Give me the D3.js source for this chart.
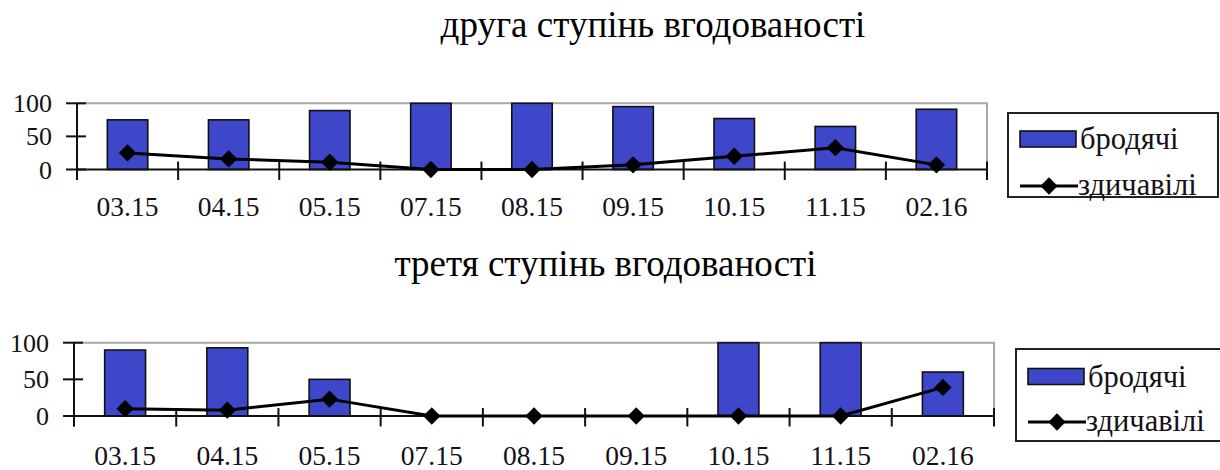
<!DOCTYPE html>
<html>
<head>
<meta charset="utf-8">
<script src="https://cdn.jsdelivr.net/npm/d3@7"></script>
<style>
  html, body { margin: 0; padding: 0; background: #fff; }
  svg { display: block; }
</style>
</head>
<body>
<svg id="chart" width="1220" height="470"></svg>
<script>
// Months of observation
const categories = ["03.15", "04.15", "05.15", "07.15", "08.15", "09.15", "10.15", "11.15", "02.16"];
const yTicks = [0, 50, 100];

// Second degree of fatness, %
const secondStray = [75, 75, 89, 100, 100, 95, 77, 65, 91];
const secondFeral = [25, 16, 11, 0, 0, 7, 20, 33, 7];

// Third degree of fatness, %
const thirdStray = [90, 93, 50, 0, 0, 0, 100, 100, 60];
const thirdFeral = [10, 8, 23, 0, 0, 0, 0, 0, 39];

const seriesNames = ["бродячі", "здичавілі"];
const titles = ["друга ступінь вгодованості", "третя ступінь вгодованості"];

const FONT = "'Liberation Serif', Tinos, 'Times New Roman', 'DejaVu Serif', serif";
const INK = "#161018";
const BAR = "#3e47c9";

const svg = d3.select("#chart")
  .attr("font-family", FONT);

const panels = [
  { title: titles[0], titleX: 653, titleY: 37, bars: secondStray, line: secondFeral,
    x0: 77, x1: 987, yTop: 103.3, yZero: 169.5, labelY: 216,
    legend: { x: 1008, y: 113, w: 210, h: 84, swY: 131, lnY: 186, sx: 1020 } },
  { title: titles[1], titleX: 605.5, titleY: 276, bars: thirdStray, line: thirdFeral,
    x0: 74, x1: 994, yTop: 342.7, yZero: 416, labelY: 465,
    legend: { x: 1016, y: 349, w: 212, h: 92, swY: 368.5, lnY: 422, sx: 1028 } }
];

panels.forEach(p => {
  const g = svg.append("g");

  g.append("text")
    .attr("x", p.titleX).attr("y", p.titleY)
    .attr("text-anchor", "middle")
    .attr("font-family", FONT)
    .attr("fill", "#000")
    .style("font-size", "37px")
    .text(p.title);

  const x = d3.scaleBand().domain(categories).range([p.x0, p.x1])
    .paddingInner(0.6).paddingOuter(0.3);
  const step = x.step();
  const y = d3.scaleLinear().domain([0, 100]).range([p.yZero, p.yTop]);

  // plot frame (top and right, grey)
  g.append("path")
    .attr("d", `M${p.x0},${y(100)}H${p.x1}V${y(0)}`)
    .attr("fill", "none").attr("stroke", "#a8a8a8").attr("stroke-width", 2);

  // bars
  const data = categories.map((c, i) => ({ c, b: p.bars[i], l: p.line[i] }));
  g.selectAll("rect.bar").data(data.filter(d => d.b > 0)).join("rect")
    .attr("class", "bar")
    .attr("x", d => x(d.c))
    .attr("width", x.bandwidth())
    .attr("y", d => y(d.b))
    .attr("height", d => y(0) - y(d.b))
    .attr("fill", BAR).attr("stroke", "#111").attr("stroke-width", 1.6);

  // x axis with boundary ticks crossing the zero line
  g.append("line")
    .attr("x1", p.x0).attr("x2", p.x1).attr("y1", y(0)).attr("y2", y(0))
    .attr("stroke", "#111").attr("stroke-width", 2);
  const bounds = d3.range(categories.length + 1).map(i => p.x0 + i * step);
  g.selectAll("line.xt").data(bounds).join("line")
    .attr("class", "xt")
    .attr("x1", d => d).attr("x2", d => d)
    .attr("y1", y(0) - 8).attr("y2", y(0) + 10.5)
    .attr("stroke", "#111").attr("stroke-width", 2);
  g.selectAll("text.xl").data(categories).join("text")
    .attr("class", "xl")
    .attr("x", d => x(d) + x.bandwidth() / 2)
    .attr("y", p.labelY)
    .attr("text-anchor", "middle")
    .attr("font-family", FONT).attr("fill", INK)
    .style("font-size", "27.5px")
    .text(d => d);

  // y axis
  g.append("line")
    .attr("x1", p.x0).attr("x2", p.x0).attr("y1", y(100)).attr("y2", y(0) + 10.5)
    .attr("stroke", "#111").attr("stroke-width", 2);
  g.selectAll("line.yt").data(yTicks).join("line")
    .attr("class", "yt")
    .attr("x1", p.x0 - 11).attr("x2", p.x0 + 9)
    .attr("y1", d => y(d)).attr("y2", d => y(d))
    .attr("stroke", "#111").attr("stroke-width", 2);
  g.selectAll("text.yl").data(yTicks).join("text")
    .attr("class", "yl")
    .attr("x", p.x0 - 25)
    .attr("y", d => y(d) + 9)
    .attr("text-anchor", "end")
    .attr("font-family", FONT).attr("fill", INK)
    .style("font-size", "26px")
    .text(d => d);

  // line series with diamond markers
  const cx = d => x(d.c) + x.bandwidth() / 2;
  g.append("path")
    .datum(data)
    .attr("d", d3.line().x(cx).y(d => y(d.l)))
    .attr("fill", "none").attr("stroke", "#000").attr("stroke-width", 3);
  const diamond = d3.symbol().type(d3.symbolSquare).size(150);
  g.selectAll("path.mk").data(data).join("path")
    .attr("class", "mk")
    .attr("transform", d => `translate(${cx(d)},${y(d.l)}) rotate(45)`)
    .attr("d", diamond)
    .attr("fill", "#000");

  // legend
  const L = p.legend;
  const lg = g.append("g");
  lg.append("rect")
    .attr("x", L.x).attr("y", L.y).attr("width", L.w).attr("height", L.h)
    .attr("fill", "#fff").attr("stroke", "#222").attr("stroke-width", 2);
  lg.append("rect")
    .attr("x", L.sx).attr("y", L.swY).attr("width", 56).attr("height", 16)
    .attr("fill", BAR).attr("stroke", "#111").attr("stroke-width", 1.6);
  lg.append("text")
    .attr("x", L.sx + 60).attr("y", L.swY + 18)
    .attr("font-family", FONT).attr("fill", INK)
    .style("font-size", "30.5px")
    .text(seriesNames[0]);
  lg.append("line")
    .attr("x1", L.sx).attr("x2", L.sx + 58).attr("y1", L.lnY).attr("y2", L.lnY)
    .attr("stroke", "#000").attr("stroke-width", 3);
  lg.append("path")
    .attr("transform", `translate(${L.sx + 29},${L.lnY}) rotate(45)`)
    .attr("d", diamond)
    .attr("fill", "#000");
  lg.append("text")
    .attr("x", L.sx + 58).attr("y", L.lnY + 9)
    .attr("font-family", FONT).attr("fill", INK)
    .style("font-size", "30.5px")
    .text(seriesNames[1]);
});
</script>
</body>
</html>
